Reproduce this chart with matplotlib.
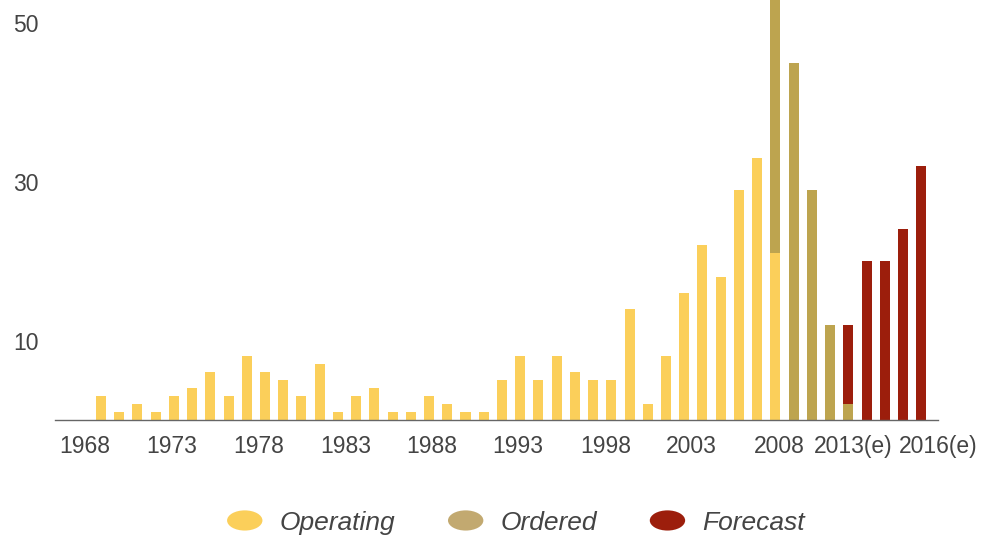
import matplotlib
matplotlib.use("Agg")
import matplotlib.pyplot as plt
from matplotlib.patches import Ellipse, Rectangle
from matplotlib.legend_handler import HandlerPatch
import numpy as np

# bar categories (first slot is 1968, empty)
operating = [0, 3, 1, 2, 1, 3, 4, 6, 3, 8, 6, 5, 3, 7, 1, 3, 4, 1, 1, 3, 2, 1, 1,
             5, 8, 5, 8, 6, 5, 5, 14, 2, 8, 16, 22, 18, 29, 33, 21,
             0, 0, 0, 0, 0, 0, 0, 0]
ordered = [0] * 38 + [35, 45, 29, 12, 2, 0, 0, 0, 0]
forecast = [0] * 42 + [10, 20, 20, 24, 32]

tick_labels = ['1968', '1973', '1978', '1983', '1988', '1993', '1998', '2003',
               '2008', '2013(e)', '2016(e)']
tick_pos = [0.13, 4.86, 9.64, 14.42, 19.15, 23.88, 28.72, 33.39, 38.23, 42.25, 46.92]

c_oper = '#FBCF5A'
c_ord = '#BDA44F'
c_fore = '#9C1E0C'
txt = '#444444'

plt.rcParams['font.family'] = ['Liberation Sans', 'DejaVu Sans']

x = np.arange(len(operating))
op = np.array(operating)
od = np.array(ordered)
fc = np.array(forecast)

fig = plt.figure(figsize=(9.9, 5.35), dpi=100)
ax = fig.add_axes([55 / 990, 115 / 535, (938 - 55) / 990, 420 / 535])

w = 0.55
b1 = ax.bar(x, op, width=w, color=c_oper, zorder=2)
b2 = ax.bar(x, od, width=w, bottom=op, color=c_ord, zorder=2)
b3 = ax.bar(x, fc, width=w, bottom=op + od, color=c_fore, zorder=2)

ax.set_xlim(-1.52, 46.5)
ax.set_ylim(0, 52.9)
ax.set_yticks([10, 30, 50])
ax.set_yticklabels(['10', '30', '50'])
ax.set_xticks(tick_pos)
ax.set_xticklabels(tick_labels)
ax.tick_params(axis='both', length=0, labelsize=16.5, colors=txt)
ax.tick_params(axis='x', pad=10.5)
ax.tick_params(axis='y', pad=11.5)

for s in ['top', 'right', 'left']:
    ax.spines[s].set_visible(False)
ax.spines['bottom'].set_color('#666666')
ax.spines['bottom'].set_linewidth(1.0)
ax.spines['bottom'].set_zorder(3)


def make_ellipse(legend, orig_handle, xdescent, ydescent, width, height, fontsize):
    return Ellipse(xy=(0.5 * width - xdescent, 0.5 * height - ydescent),
                   width=width, height=height)


leg = fig.legend(handles=[b1[0], b2[0], b3[0]], labels=['Operating', 'Ordered', 'Forecast'],
                 loc='center', bbox_to_anchor=(516 / 990, 12.5 / 535), ncol=3,
                 frameon=False, fontsize=19, handlelength=1.34, handleheight=0.8,
                 handletextpad=0.65, columnspacing=2.0, borderpad=0, borderaxespad=0,
                 handler_map={Rectangle: HandlerPatch(patch_func=make_ellipse)})
for t in leg.get_texts():
    t.set_color(txt)
    t.set_fontstyle('italic')
# the legend swatch for "Ordered" is a touch lighter than the bars
leg.legend_handles[1].set_facecolor('#C2A970')

fig.savefig('out.png', dpi=100)
